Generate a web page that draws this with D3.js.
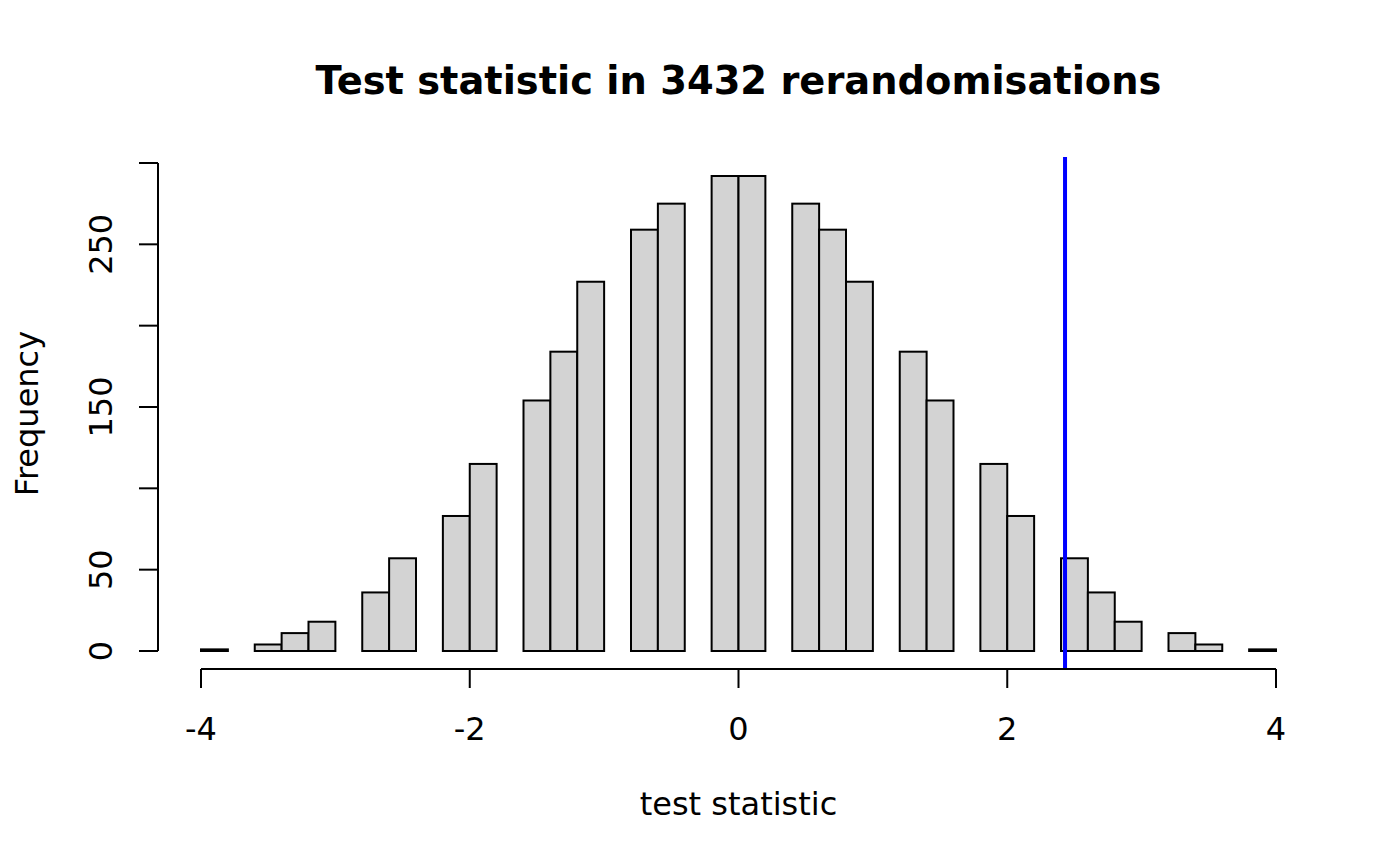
<!DOCTYPE html>
<html>
<head>
<meta charset="utf-8">
<script src="https://cdn.jsdelivr.net/npm/d3@7"></script>
<style>
  html, body { margin: 0; padding: 0; background: #fff; }
  svg text { font-family: "DejaVu Sans", sans-serif; fill: #000; }
</style>
</head>
<body>
<div id="chart"></div>
<script>
const width = 1400, height = 866;

// histogram bins (break points, width 0.2) and counts
const breaks = d3.range(-4, 4.0001, 0.2).map(v => +v.toFixed(1));
const counts = [1, 0, 4, 11, 18, 0, 36, 57, 0, 83, 115, 0, 154, 184, 227, 0, 259, 275, 0, 292,
                292, 0, 275, 259, 227, 0, 184, 154, 0, 115, 83, 0, 57, 36, 18, 0, 11, 4, 0, 1];
const observed = 2.43;
const xTicks = [-4, -2, 0, 2, 4];
const yTicks = [0, 50, 100, 150, 200, 250, 300];
const yLabels = [0, 50, 150, 250]; // R drops the ones that would overlap

const bins = counts.map((c, i) => ({x0: breaks[i], x1: breaks[i + 1], n: c}));

// plot region, R style 4% padding on the data range
const plot = {left: 158, right: 1319, top: 157, bottom: 670};
const xMin = breaks[0], xMax = breaks[breaks.length - 1];
const yMax = d3.max(counts);
const padX = (xMax - xMin) * 0.04, padY = yMax * 0.04;

const x = d3.scaleLinear().domain([xMin - padX, xMax + padX]).range([plot.left, plot.right]);
const y = d3.scaleLinear().domain([-padY, yMax + padY]).range([plot.bottom, plot.top]);

const svg = d3.select("#chart").append("svg")
    .attr("width", width)
    .attr("height", height);

// bars
svg.append("g")
  .selectAll("rect")
  .data(bins)
  .join("rect")
    .attr("x", d => x(d.x0))
    .attr("y", d => y(d.n))
    .attr("width", d => x(d.x1) - x(d.x0))
    .attr("height", d => y(0) - y(d.n))
    .attr("fill", "#d3d3d3")
    .attr("stroke", "#000")
    .attr("stroke-width", 2);

// observed statistic
svg.append("line")
    .attr("x1", x(observed)).attr("x2", x(observed))
    .attr("y1", plot.top).attr("y2", plot.bottom)
    .attr("stroke", "#0000ff")
    .attr("stroke-width", 4);

// x axis
const xAxis = svg.append("g").attr("transform", `translate(0,${plot.bottom - 1})`);
xAxis.append("line")
    .attr("x1", x(xTicks[0])).attr("x2", x(xTicks[xTicks.length - 1]))
    .attr("stroke", "#000").attr("stroke-width", 2);
xAxis.selectAll(".tick")
  .data(xTicks)
  .join("line")
    .attr("x1", d => x(d)).attr("x2", d => x(d))
    .attr("y1", 0).attr("y2", 19)
    .attr("stroke", "#000").attr("stroke-width", 2);
xAxis.selectAll("text")
  .data(xTicks)
  .join("text")
    .attr("x", d => x(d))
    .attr("y", 71)
    .attr("text-anchor", "middle")
    .attr("font-size", 32)
    .text(d => d);

// y axis
const yAxis = svg.append("g").attr("transform", `translate(${plot.left},0)`);
yAxis.append("line")
    .attr("y1", y(yTicks[0])).attr("y2", y(yTicks[yTicks.length - 1]))
    .attr("stroke", "#000").attr("stroke-width", 2);
yAxis.selectAll(".tick")
  .data(yTicks)
  .join("line")
    .attr("y1", d => y(d)).attr("y2", d => y(d))
    .attr("x1", 0).attr("x2", -19)
    .attr("stroke", "#000").attr("stroke-width", 2);
yAxis.selectAll("text")
  .data(yLabels)
  .join("text")
    .attr("transform", d => `translate(-46,${y(d)}) rotate(-90)`)
    .attr("text-anchor", "middle")
    .attr("font-size", 32)
    .text(d => d);

// titles
svg.append("text")
    .attr("x", (plot.left + plot.right) / 2)
    .attr("y", 94)
    .attr("text-anchor", "middle")
    .attr("font-size", 38.4)
    .attr("font-weight", "bold")
    .text("Test statistic in 3432 rerandomisations");

svg.append("text")
    .attr("x", (plot.left + plot.right) / 2)
    .attr("y", 815)
    .attr("text-anchor", "middle")
    .attr("font-size", 32)
    .text("test statistic");

svg.append("text")
    .attr("transform", `translate(38,${(plot.top + plot.bottom) / 2}) rotate(-90)`)
    .attr("text-anchor", "middle")
    .attr("font-size", 32)
    .text("Frequency");
</script>
</body>
</html>
